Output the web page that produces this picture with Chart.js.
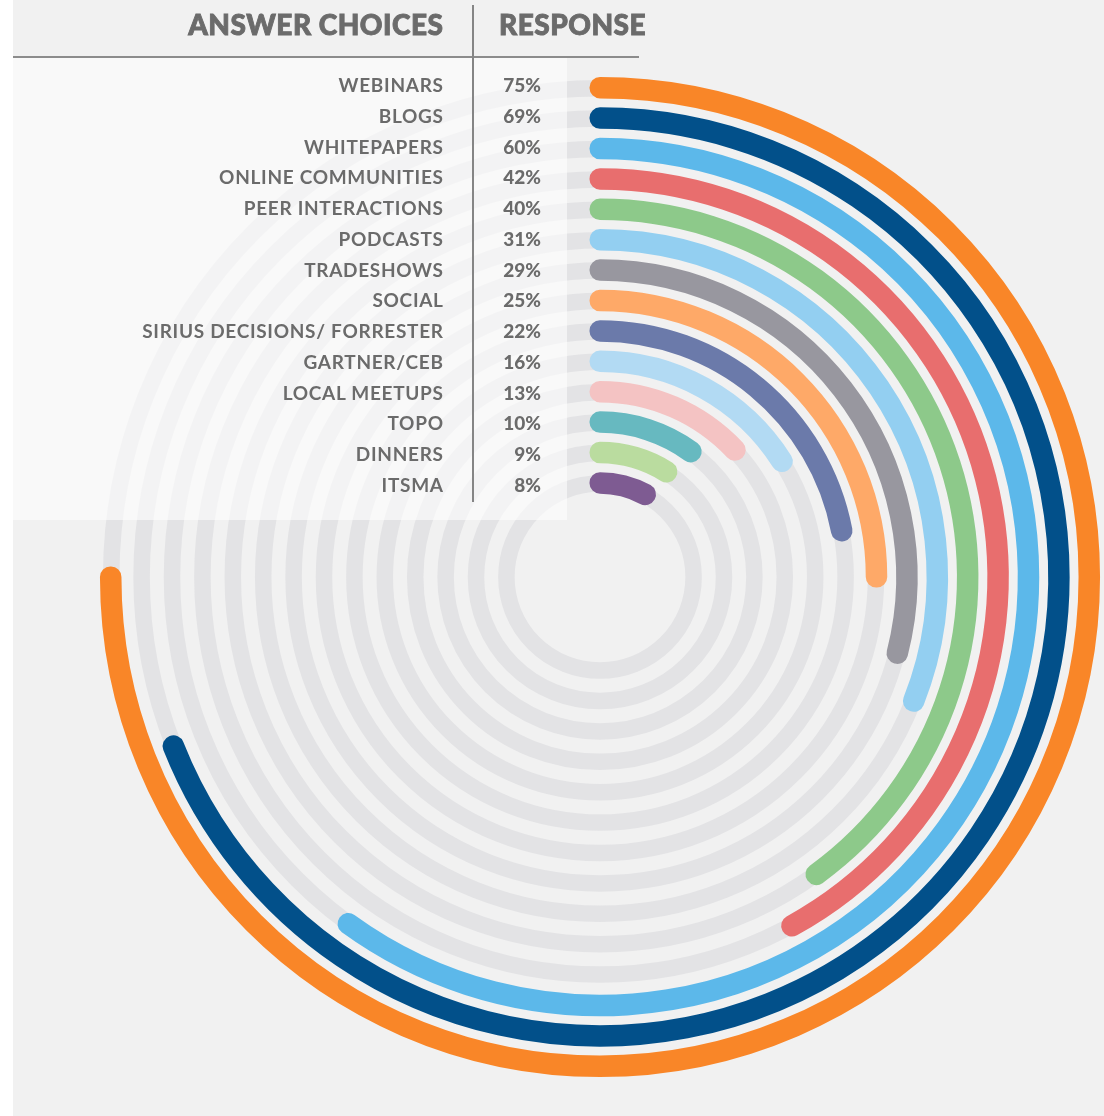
<!DOCTYPE html>
<html>
<head>
<meta charset="utf-8">
<script src="https://cdn.jsdelivr.net/npm/chart.js@4.4.1/dist/chart.umd.min.js"></script>
<style>
  html, body { margin: 0; padding: 0; background: #ffffff; overflow: hidden; }
  #stage { position: relative; width: 1104px; height: 1116px; }
  #bg { position: absolute; left: 13px; top: 0; width: 1091px; height: 1116px; background: #f1f1f1; }
  #rings { position: absolute; left: 0; top: 0; }
  #panel { position: absolute; left: 13px; top: 57px; width: 554px; height: 463px; background: rgba(255,255,255,0.58); }
  .hline { position: absolute; left: 13px; top: 56px; width: 626px; height: 2px; background: #8c8c8c; }
  .vline { position: absolute; left: 472px; top: 5px; width: 2px; height: 497px; background: #858585; }
  .head { position: absolute; top: 6px; height: 36px; line-height: 36px; font-family: Lato, "Open Sans", sans-serif; font-weight: 900; font-size: 28px; letter-spacing: 0.5px; color: #6b6b6b; white-space: nowrap; -webkit-text-stroke: 0.9px #6b6b6b; }
  .row { position: absolute; height: 24px; line-height: 24px; font-family: Lato, "Open Sans", sans-serif; font-size: 19px; color: #6b6b6b; white-space: nowrap; }
  .lab { font-weight: 700; text-align: right; right: 661px; letter-spacing: 0.7px; margin-right: -0.7px; }
  .val { font-weight: 900; text-align: right; right: 563px; }
</style>
</head>
<body>
<div id="stage">
  <div id="bg"></div>
  <canvas id="rings" width="1104" height="1116"></canvas>
  <div id="panel"></div>
  <div id="table"></div>
  <div class="hline"></div>
  <div class="vline"></div>
</div>
<script>
// Survey results: share of respondents using each information source
const headers = ['ANSWER CHOICES', 'RESPONSE'];
const categories = [
  'WEBINARS', 'BLOGS', 'WHITEPAPERS', 'ONLINE COMMUNITIES', 'PEER INTERACTIONS',
  'PODCASTS', 'TRADESHOWS', 'SOCIAL', 'SIRIUS DECISIONS/ FORRESTER', 'GARTNER/CEB',
  'LOCAL MEETUPS', 'TOPO', 'DINNERS', 'ITSMA'
];
const responses = [75, 69, 60, 42, 40, 31, 29, 25, 22, 16, 13, 10, 9, 8];
const ringColors = [
  '#f98628', '#02508a', '#5cb8ea', '#e86e6e', '#8dc98a', '#93cff1', '#98979f',
  '#fea968', '#6b7aaa', '#b2daf3', '#f4c3c3', '#67b9c0', '#badc9f', '#7e5b92'
];

// Ring geometry (pixels)
const CX = 600, CY = 577;
const OUTER_RING = 489.3;   // centre line of the outermost ring
const RING_STEP = 30.4;     // distance between ring centre lines
const BAR_WIDTH = 21;       // coloured bar thickness
const TRACK_WIDTH = 16;     // grey track thickness
const CORE = 0.5;           // thin core path that the thick border is stroked around
const TRACK_COLOR = '#e3e3e5';

// Build the doughnut rings: for each answer a coloured arc, its grey track,
// and a transparent spacer before the next ring.
const datasets = [];
categories.forEach((name, i) => {
  datasets.push({
    label: name,
    data: [responses[i], 100 - responses[i]],
    backgroundColor: [ringColors[i], 'rgba(0,0,0,0)'],
    borderColor: [ringColors[i], 'rgba(0,0,0,0)'],
    borderWidth: [BAR_WIDTH, 0],
    borderJoinStyle: 'round',
    weight: CORE
  });
  datasets.push({
    label: name + ' track',
    data: [100],
    backgroundColor: TRACK_COLOR,
    borderColor: TRACK_COLOR,
    borderWidth: TRACK_WIDTH,
    borderJoinStyle: 'round',
    weight: CORE
  });
  if (i < categories.length - 1) {
    datasets.push({
      label: 'gap',
      data: [100],
      backgroundColor: 'rgba(0,0,0,0)',
      borderWidth: 0,
      weight: RING_STEP - 2 * CORE
    });
  }
});

const totalWeight = categories.length * 2 * CORE + (categories.length - 1) * (RING_STEP - 2 * CORE);
const outerRadius = OUTER_RING + CORE / 2;
const innerRadius = outerRadius - totalWeight;

new Chart(document.getElementById('rings'), {
  type: 'doughnut',
  data: { labels: ['value', 'rest'], datasets },
  options: {
    responsive: false,
    devicePixelRatio: 1,
    animation: false,
    events: [],
    radius: outerRadius,
    cutout: (innerRadius / outerRadius * 100) + '%',
    rotation: 0,
    circumference: 360,
    hoverOffset: 0,
    layout: { padding: { left: 2 * (CX - 552), top: 2 * (CY - 558), right: 0, bottom: 0 } },
    plugins: { legend: { display: false }, tooltip: { enabled: false } }
  }
});

// Table of answers and percentages
const table = document.getElementById('table');
function addText(cls, text, styles) {
  const el = document.createElement('div');
  el.className = cls;
  el.textContent = text;
  Object.assign(el.style, styles);
  table.appendChild(el);
}
addText('head', headers[0], { right: '661px', textAlign: 'right', marginRight: '-0.5px' });
addText('head', headers[1], { left: '499px' });
const ROW_TOP = 85, ROW_STEP = 30.77;
categories.forEach((name, i) => {
  const top = (ROW_TOP + i * ROW_STEP - 12) + 'px';
  addText('row lab', name, { top });
  addText('row val', responses[i] + '%', { top });
});
</script>
</body>
</html>
